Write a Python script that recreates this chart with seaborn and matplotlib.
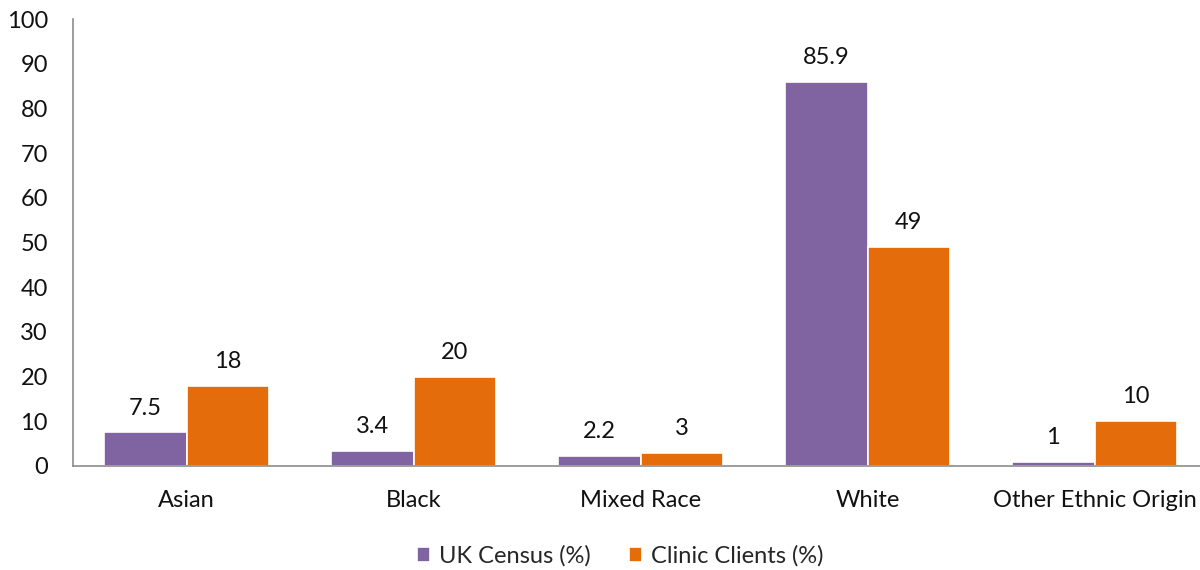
import matplotlib
matplotlib.use("Agg")
import matplotlib.pyplot as plt
import seaborn as sns
import pandas as pd

categories = ["Asian", "Black", "Mixed Race", "White", "Other Ethnic Origin"]
uk_census = [7.5, 3.4, 2.2, 85.9, 1]
clinic_clients = [18, 20, 3, 49, 10]
series_names = ["UK Census (%)", "Clinic Clients (%)"]
y_ticks = list(range(0, 101, 10))

colors = ["#8064A2", "#E46C0A"]

df = pd.DataFrame({
    "Category": categories * 2,
    "Series": [series_names[0]] * len(categories) + [series_names[1]] * len(categories),
    "Value": uk_census + clinic_clients,
})

sns.set_theme(style="white")
plt.rcParams["font.family"] = ["Lato", "DejaVu Sans"]

fs = 17
fig = plt.figure(figsize=(12, 5.7), dpi=100)
ax = fig.add_axes([73 / 1200, 104 / 570, 1135 / 1200, 447 / 570])

sns.barplot(data=df, x="Category", y="Value", hue="Series", order=categories,
            hue_order=series_names, palette=colors, width=0.73,
            edgecolor="white", linewidth=1.2, saturation=1, ax=ax)

for container in ax.containers:
    ax.bar_label(container, labels=[f"{v:g}" for v in container.datavalues],
                 padding=10, fontsize=fs, color="#111111")

ax.set_ylim(0, 100)
ax.set_xlim(-0.5, 4.5)
ax.set_yticks(y_ticks)
ax.tick_params(axis="both", length=0, labelsize=fs, colors="#111111")
ax.tick_params(axis="x", pad=17)
ax.tick_params(axis="y", pad=18)
ax.set_xlabel("")
ax.set_ylabel("")

for side in ["top", "right"]:
    ax.spines[side].set_visible(False)
for side in ["left", "bottom"]:
    ax.spines[side].set_color("#8C8C8C")
    ax.spines[side].set_linewidth(1.2)

handles, labels = ax.get_legend_handles_labels()
ax.legend(handles, labels, loc="center", bbox_to_anchor=(620 / 1200, 14 / 570),
          bbox_transform=fig.transFigure, ncol=2, frameon=False, fontsize=fs,
          handlelength=0.55, handleheight=0.55, handletextpad=0.4, columnspacing=1.6)

fig.savefig("out.png", dpi=100)
